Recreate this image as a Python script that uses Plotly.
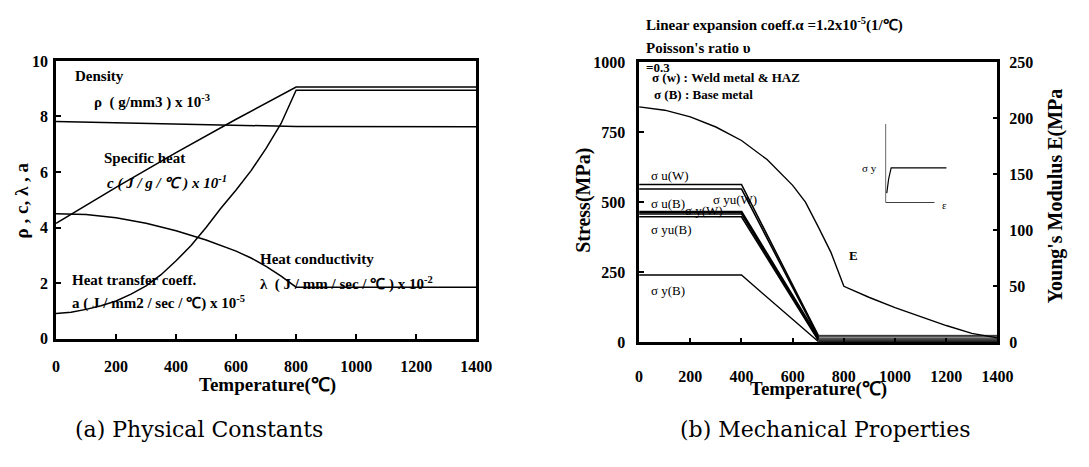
import plotly.graph_objects as go

W, H = 1089, 467

# ---------------- data: (a) physical constants ----------------
temp_density = [0, 400, 800, 1400]
density = [7.82, 7.74, 7.64, 7.63]

temp_cp = [0, 200, 400, 600, 800, 1400]
specific_heat = [4.15, 5.45, 6.7, 7.9, 9.06, 9.06]

temp_lam = [0, 100, 200, 300, 400, 500, 600, 650, 700, 750, 800, 1400]
conductivity = [4.5, 4.47, 4.35, 4.15, 3.88, 3.55, 3.15, 2.9, 2.6, 2.25, 1.85, 1.85]

temp_htc = [0, 50, 100, 150, 200, 250, 300, 350, 400, 450, 500, 550, 600, 650, 700, 750, 800, 1400]
heat_transfer = [0.9, 0.95, 1.05, 1.18, 1.35, 1.6, 1.9, 2.3, 2.8, 3.35, 4.0, 4.7, 5.35, 6.05, 6.85, 7.75, 8.95, 8.95]

# ---------------- data: (b) mechanical properties ----------------
temp_stress = [0, 400, 700, 1400]
su_w = [563, 563, 25, 25]
su_b = [547, 547, 20, 20]
syu_w = [465, 465, 15, 15]
sy_w = [458, 458, 11, 11]
syu_b = [448, 448, 7, 7]
sy_b = [240, 240, 3, 3]

temp_E = [0, 100, 200, 300, 400, 500, 600, 650, 700, 750, 800, 900, 1000, 1100, 1200, 1300, 1400]
youngs_E = [210, 207, 201, 192, 180, 163, 140, 125, 103, 80, 50, 40, 31, 23, 15, 8, 4]

# schematic stress-strain inset (normalised units)
inset_axes_x = [0, 0, 0.78]
inset_axes_y = [1, 0, 0]
inset_curve_x = [0.02, 0.05, 0.09, 0.97]
inset_curve_y = [0.12, 0.30, 0.44, 0.44]

x_ticks = [0, 200, 400, 600, 800, 1000, 1200, 1400]
y1_ticks = [0, 2, 4, 6, 8, 10]
y2_ticks = [0, 250, 500, 750, 1000]
y4_ticks = [0, 50, 100, 150, 200, 250]

SERIF = "Liberation Serif"
BLK = "black"


def px(x):
    return x / W


def py(y):
    return 1 - y / H


fig = go.Figure()


def line(x, y, xa, ya, w=1.5):
    fig.add_trace(go.Scatter(x=x, y=y, mode="lines", xaxis=xa, yaxis=ya,
                             line=dict(color=BLK, width=w), showlegend=False,
                             hoverinfo="skip"))


line(temp_density, density, "x", "y")
line(temp_cp, specific_heat, "x", "y")
line(temp_lam, conductivity, "x", "y")
line(temp_htc, heat_transfer, "x", "y")

for s, w in [(su_w, 1.6), (su_b, 1.6), (syu_w, 2.4), (sy_w, 1.6), (syu_b, 1.6), (sy_b, 1.4)]:
    line(temp_stress[:3], s[:3], "x2", "y2", w)      # rising/softening part
    line(temp_stress[2:], s[2:], "x2", "y2", 0.9)    # high-temperature tail
line(temp_E, youngs_E, "x2", "y4", 1.4)

line(inset_axes_x, inset_axes_y, "x3", "y3", 1.2)
line(inset_curve_x, inset_curve_y, "x3", "y3", 1.2)

tickfont = dict(family=SERIF, size=16, color=BLK, weight="bold")
common = dict(showgrid=False, zeroline=False, showline=True, linecolor=BLK,
              linewidth=2.5, ticks="inside", ticklen=5, tickwidth=1.5,
              tickcolor=BLK, tickfont=tickfont)

fig.update_layout(
    width=W, height=H, margin=dict(l=0, r=0, t=0, b=0),
    paper_bgcolor="white", plot_bgcolor="white",
    xaxis=dict(domain=[px(53), px(481)], range=[0, 1400], tickvals=x_ticks,
               anchor="y", mirror=True, ticklabelstandoff=12, **common),
    yaxis=dict(domain=[py(343), py(55)], range=[0, 10], tickvals=y1_ticks,
               anchor="x", mirror=True, ticklabelstandoff=2, **common),
    xaxis2=dict(domain=[px(647), px(1012)], range=[0, 1400], tickvals=x_ticks,
                anchor="y2", mirror=True, ticklabelstandoff=18, **common),
    yaxis2=dict(domain=[py(347), py(56)], range=[0, 1000], tickvals=y2_ticks,
                anchor="x2", mirror=True, ticklabelstandoff=8, **common),
    yaxis4=dict(overlaying="y2", side="right", range=[0, 250], tickvals=y4_ticks,
                anchor="x2", ticklabelstandoff=6, **common),
    xaxis3=dict(domain=[px(898), px(962)], range=[0, 1], visible=False, anchor="y3"),
    yaxis3=dict(domain=[py(202), py(120)], range=[0, 1], visible=False, anchor="x3"),
)

ann = []


def text(t, x, y, size=15, xref="paper", yref="paper", xanchor="left", bold=True,
         angle=0, italic=False, family=SERIF):
    ann.append(dict(text=t, x=x, y=y, xref=xref, yref=yref, xanchor=xanchor,
                    yanchor="middle", showarrow=False, textangle=angle,
                    font=dict(family=family, size=size, color=BLK,
                              weight="bold" if bold else "normal",
                              style="italic" if italic else "normal")))


# (a) labels
text("Density", 56, 9.45, xref="x", yref="y")
text("ρ  ( g/mm3 ) x 10<sup>-3</sup>", 121, 8.55, xref="x", yref="y")
text("Specific heat", 154, 6.5, xref="x", yref="y")
text("c ( J / g / ℃ ) x 10<sup>-1</sup>", 164, 5.62, xref="x", yref="y", italic=True)
text("Heat transfer coeff.", 46, 2.12, xref="x", yref="y")
text("a ( J / mm2 / sec / ℃) x 10<sup>-5</sup>", 46, 1.3, xref="x", yref="y")
text("Heat conductivity", 674, 2.85, xref="x", yref="y")
text("λ  ( J / mm / sec / ℃ ) x 10<sup>-2</sup>", 674, 1.98, xref="x", yref="y")
text("Temperature(℃)", px(268), py(391), size=19, xanchor="center")
text("ρ , c, λ , a", px(18), py(200), size=19, xanchor="center", angle=-90)
text("(a) Physical Constants", px(199), py(437), size=22, xanchor="center",
     bold=False, family="DejaVu Serif")

# (b) labels
text("Linear expansion coeff.α =1.2x10<sup>-5</sup>(1/℃)", px(652), py(17))
text("Poisson's ratio υ", px(652), py(42))
text("=0.3", px(652), py(62), size=13)
text("σ (w) : Weld metal &amp; HAZ", 42, 945, xref="x2", yref="y2", size=13)
text("σ (B) : Base metal", 50, 883, xref="x2", yref="y2", size=13)
text("σ u(W)", 38, 595, xref="x2", yref="y2", size=13, bold=False)
text("σ u(B)", 38, 495, xref="x2", yref="y2", size=13, bold=False)
text("σ y(W)", 173, 470, xref="x2", yref="y2", size=13, bold=False)
text("σ yu(W)", 280, 510, xref="x2", yref="y2", size=13, bold=False)
text("σ yu(B)", 38, 402, xref="x2", yref="y2", size=13, bold=False)
text("σ y(B)", 38, 186, xref="x2", yref="y2", size=13, bold=False)
text("E", 836, 309, xref="x2", yref="y2", size=13, xanchor="center")
text("σ y", px(882), py(166), size=11, xanchor="center", bold=False)
text("ε", px(958), py(204), size=11, xanchor="center", bold=False)
text("Temperature(℃)", px(830), py(395), size=19, xanchor="center")
text("Stress(MPa)", px(591), py(200), size=20, xanchor="center", angle=-90)
text("Young's Modulus E(MPa", px(1072), py(195), size=20, xanchor="center", angle=-90)
text("(b) Mechanical Properties", px(836), py(437), size=22, xanchor="center",
     bold=False, family="DejaVu Serif")

fig.update_layout(annotations=ann)
fig.write_html("out.html")
